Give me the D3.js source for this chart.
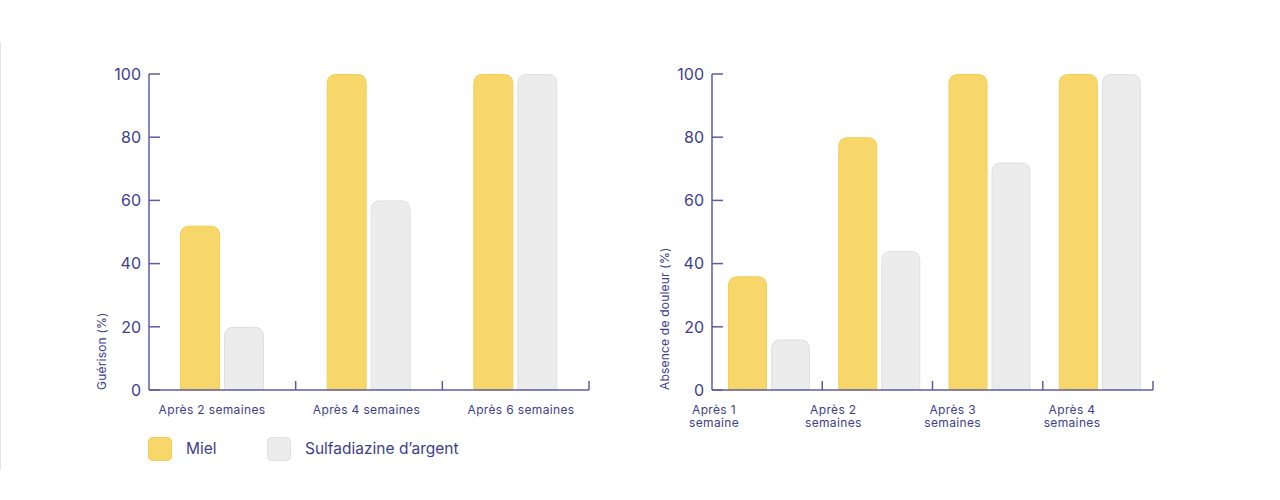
<!DOCTYPE html>
<html><head><meta charset="utf-8">
<script src="https://cdn.jsdelivr.net/npm/d3@7"></script>
<style>body{margin:0;background:#fff;}svg{display:block;font-family:Inter,Roboto,sans-serif;}</style>
</head><body>
<svg id="c" width="1280" height="500"></svg>
<script>
const cats1 = ["Après 2 semaines","Après 4 semaines","Après 6 semaines"];
const miel1 = [52,100,100];
const sulfa1 = [20,60,100];
const cats2 = ["Après 1\nsemaine","Après 2\nsemaines","Après 3\nsemaines","Après 4\nsemaines"];
const miel2 = [36,80,100,100];
const sulfa2 = [16,44,72,100];
const yTicks = [0,20,40,60,80,100];
const seriesNames = ["Miel","Sulfadiazine d\u2019argent"];
const yTitles = ["Guérison (%)","Absence de douleur (%)"];

const svg = d3.select("#c");
const axisCol = "#5c5ca6", textCol = "#3e3e8e";
const fills = ["#f8d76a","#ececec"], strokes = ["#f2cf58","#e0e0e0"];

svg.append("line").attr("x1",0.5).attr("x2",0.5).attr("y1",42).attr("y2",470).attr("stroke","#e4e4e4");

function topRounded(x,y,w,h,r){
  r=Math.min(r,h,w/2);
  return `M${x},${y+h}V${y+r}Q${x},${y} ${x+r},${y}H${x+w-r}Q${x+w},${y} ${x+w},${y+r}V${y+h}Z`;
}

function chart(cfg){
  const {x0,x1,cats,vals,labelRange,title,padL,barW,gap} = cfg;
  const y = d3.scaleLinear().domain([0,100]).range([390,74]);
  const xb = d3.scaleBand().domain(cats).range([x0,x1]);
  const xl = d3.scalePoint().domain(cats).range(labelRange);
  const g = svg.append("g");
  vals.forEach((arr,si)=>{
    g.selectAll(null).data(arr).enter().append("path")
      .attr("d",(d,i)=>{
        const bx = xb(cats[i]) + padL + si*(barW+gap);
        return topRounded(bx+0.5, y(d)+0.5, barW-1, 389-y(d), 9);
      })
      .attr("fill",fills[si]).attr("stroke",strokes[si]).attr("stroke-width",1);
  });
  g.append("line").attr("x1",x0).attr("x2",x0).attr("y1",y(100)).attr("y2",y(0)).attr("stroke",axisCol).attr("stroke-width",1.5);
  yTicks.forEach(t=>{
    g.append("line").attr("x1",x0).attr("x2",x0+11).attr("y1",y(t)).attr("y2",y(t)).attr("stroke",axisCol).attr("stroke-width",1.5);
    g.append("text").attr("x",x0-8).attr("y",y(t)).attr("dy","0.36em").attr("text-anchor","end")
      .attr("font-size",16).attr("fill",textCol).text(t);
  });
  g.append("line").attr("x1",x0).attr("x2",x1).attr("y1",y(0)).attr("y2",y(0)).attr("stroke",axisCol).attr("stroke-width",1.5);
  cats.forEach(c=>{
    const tx = xb(c)+xb.bandwidth();
    g.append("line").attr("x1",tx).attr("x2",tx).attr("y1",y(0)).attr("y2",y(0)-9).attr("stroke",axisCol).attr("stroke-width",1.5);
    const lines = c.split("\n");
    const t = g.append("text").attr("text-anchor","middle").attr("font-size",12).attr("letter-spacing",0.35).attr("fill",textCol);
    lines.forEach((l,k)=>t.append("tspan").attr("x",xl(c)).attr("y",414+k*12.5).text(l));
  });
  g.append("text").attr("transform",`translate(${x0-43},390) rotate(-90)`).attr("text-anchor","start")
    .attr("font-size",12).attr("letter-spacing",0.2).attr("fill",textCol).text(title);
}

chart({x0:149,x1:589,cats:cats1,vals:[miel1,sulfa1],labelRange:[212,521],title:yTitles[0],padL:31,barW:40,gap:4});
chart({x0:712,x1:1153,cats:cats2,vals:[miel2,sulfa2],labelRange:[714,1072],title:yTitles[1],padL:16,barW:39,gap:4});

const lx = [148,267];
seriesNames.forEach((n,i)=>{
  svg.append("rect").attr("x",lx[i]+0.5).attr("y",437.5).attr("width",23).attr("height",23).attr("rx",4)
    .attr("fill",fills[i]).attr("stroke",strokes[i]);
  svg.append("text").attr("x",lx[i]+38).attr("y",449).attr("dy","0.35em").attr("font-size",15.5).attr("fill",textCol).text(n);
});
</script>
</body></html>
